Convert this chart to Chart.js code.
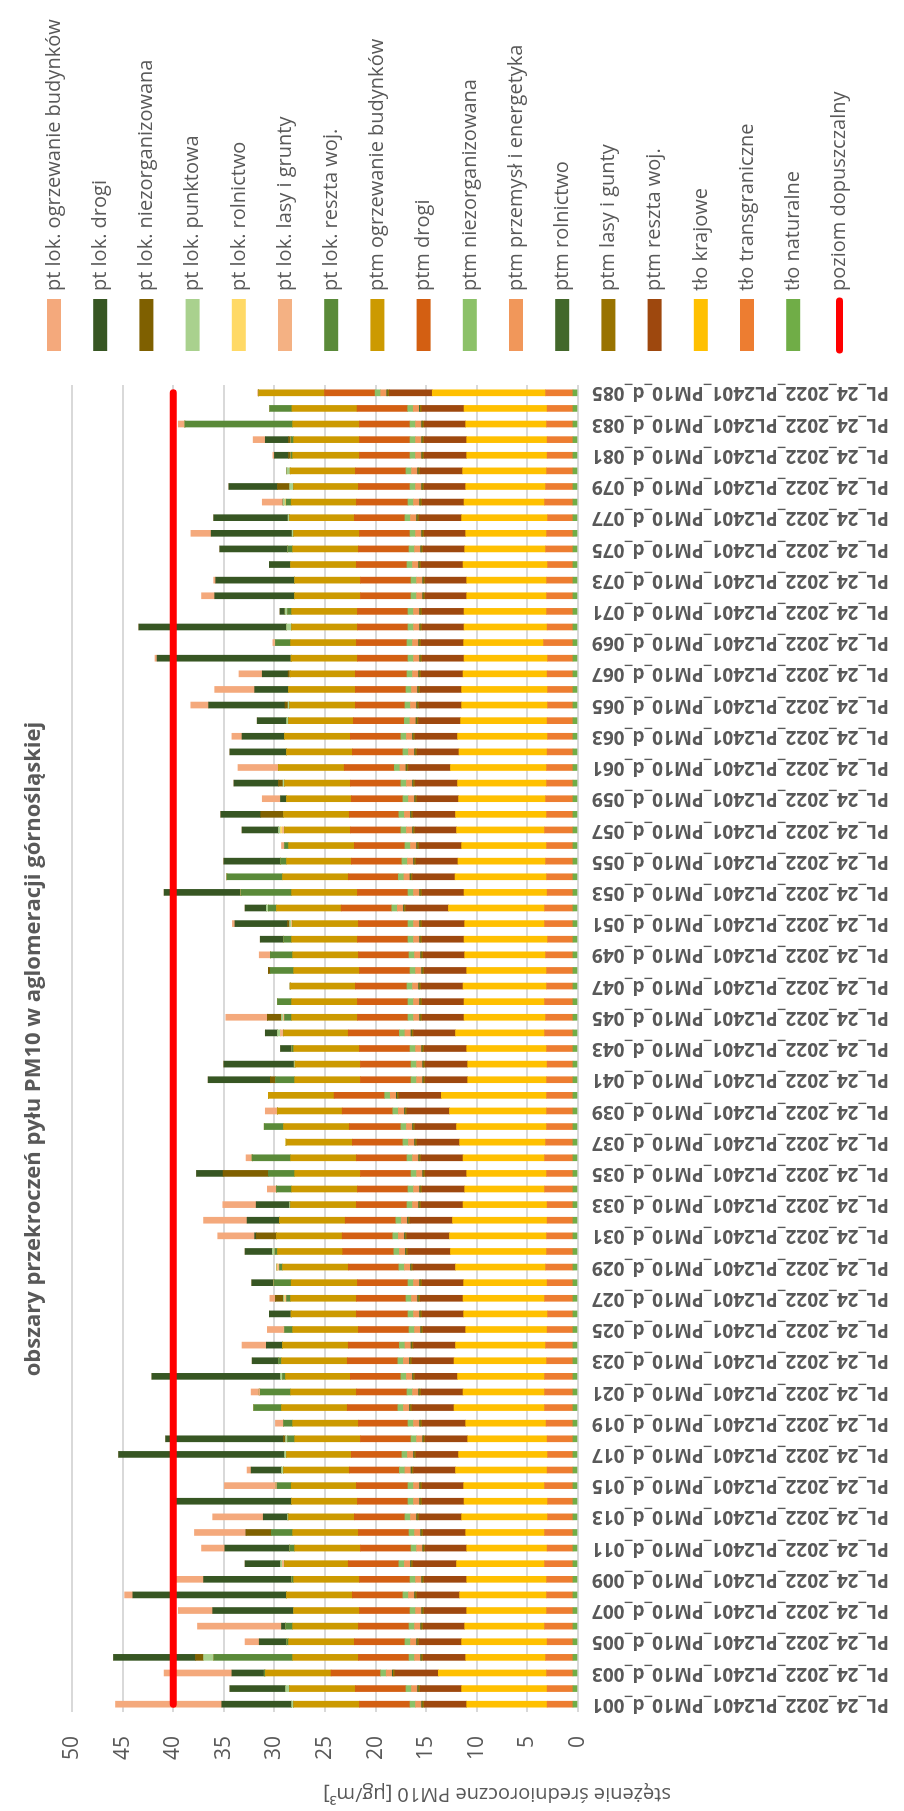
<!DOCTYPE html>
<html lang="pl">
<head>
<meta charset="utf-8">
<title>obszary przekroczeń pyłu PM10 w aglomeracji górnośląskiej</title>
<script src="https://cdn.jsdelivr.net/npm/chart.js@4.4.1/dist/chart.umd.min.js"></script>
<style>
  html, body { margin: 0; padding: 0; background: #fff; overflow: hidden; }
  /* chart is drawn landscape and turned a quarter to the left */
  #wrap { position: absolute; left: 0; top: 0; width: 1811px; height: 904px;
          transform-origin: 0 0; transform: translateY(1811px) rotate(-90deg); }
</style>
</head>
<body>
<div id="wrap"><canvas id="pm10Chart" width="1811" height="904"></canvas></div>
<script>
const chartTitle = 'obszary przekroczeń pyłu PM10 w aglomeracji górnośląskiej';
const axisTitle = 'stężenie średnioroczne PM10 [µg/m³]';

// PL_24_2022_PL2401_PM10_d_001 ... _085
const categories = Array.from({ length: 85 }, (_, i) => 'PL_24_2022_PL2401_PM10_d_' + String(i + 1).padStart(3, '0'));
const valueTicks = [0, 5, 10, 15, 20, 25, 30, 35, 40, 45, 50];
const limitValue = 40;

// background (tło)
const tloNaturalne = [
  0.5, 0.5, 0.5, 0.5, 0.5, 0.5, 0.5, 0.5, 0.5, 0.5,
  0.5, 0.5, 0.5, 0.5, 0.5, 0.5, 0.5, 0.5, 0.5, 0.5,
  0.5, 0.5, 0.5, 0.5, 0.5, 0.5, 0.5, 0.5, 0.5, 0.5,
  0.5, 0.5, 0.5, 0.5, 0.5, 0.5, 0.5, 0.5, 0.5, 0.5,
  0.5, 0.5, 0.5, 0.5, 0.5, 0.5, 0.5, 0.5, 0.5, 0.5,
  0.5, 0.5, 0.5, 0.5, 0.5, 0.5, 0.5, 0.5, 0.5, 0.5,
  0.5, 0.5, 0.5, 0.5, 0.5, 0.5, 0.5, 0.5, 0.5, 0.5,
  0.5, 0.5, 0.5, 0.5, 0.5, 0.5, 0.5, 0.5, 0.5, 0.5,
  0.5, 0.5, 0.5, 0.5, 0.5];
const tloTransgraniczne = [
  2.55, 2.55, 2.6, 2.7, 2.55, 2.8, 2.6, 2.6, 2.6, 2.8,
  2.55, 2.8, 2.5, 2.5, 2.8, 2.55, 2.5, 2.55, 2.65, 2.8,
  2.8, 2.8, 2.6, 2.7, 2.55, 2.5, 2.8, 2.55, 2.7, 2.6,
  2.6, 2.55, 2.55, 2.8, 2.6, 2.8, 2.7, 2.6, 2.6, 2.6,
  2.6, 2.55, 2.6, 2.8, 2.7, 2.8, 2.6, 2.6, 2.7, 2.5,
  2.8, 2.8, 2.55, 2.6, 2.7, 2.6, 2.8, 2.6, 2.7, 2.6,
  2.6, 2.55, 2.5, 2.55, 2.5, 2.5, 2.55, 2.5, 2.9, 2.55,
  2.6, 2.6, 2.6, 2.5, 2.7, 2.6, 2.5, 2.8, 2.7, 2.6,
  2.55, 2.55, 2.6, 2.55, 2.7];
const tloKrajowe = [
  7.95, 8.45, 10.7, 7.9, 8.45, 7.9, 7.9, 8.6, 7.9, 8.7,
  7.95, 7.8, 8.5, 8.26, 8.0, 9.05, 8.8, 7.85, 7.95, 8.95,
  8.06, 8.6, 9.15, 8.9, 8.05, 8.3, 8.06, 8.25, 8.9, 9.5,
  9.6, 9.35, 8.31, 7.9, 7.9, 8.06, 8.5, 8.9, 9.6, 10.4,
  7.8, 7.85, 7.9, 8.8, 8.06, 7.96, 8.26, 7.9, 8.0, 8.26,
  7.9, 9.5, 8.21, 9.05, 8.66, 8.4, 8.7, 9.0, 8.6, 8.8,
  9.5, 8.71, 8.9, 8.55, 8.5, 8.5, 8.31, 8.26, 7.9, 8.21,
  8.16, 7.9, 7.9, 8.36, 8.0, 8.0, 8.5, 7.96, 7.9, 8.3,
  7.95, 7.95, 8.0, 8.21, 11.2];

// ptm
const ptmResztaWoj = [
  4.2, 4.1, 4.3, 4.2, 4.2, 4.1, 4.2, 4.2, 4.2, 4.3,
  4.1, 4.2, 4.2, 4.14, 4.1, 4.15, 4.2, 4.2, 4.3, 4.15,
  4.14, 4.2, 4.15, 4.15, 4.2, 4.1, 4.24, 4.1, 4.2, 4.2,
  4.2, 4.2, 4.14, 4.2, 4.1, 4.14, 4.2, 4.1, 4.2, 4.2,
  4.2, 4.2, 4.2, 4.15, 4.14, 4.14, 4.14, 4.2, 4.1, 4.14,
  4.2, 4.2, 4.14, 4.2, 4.14, 4.2, 4.1, 4.2, 4.1, 4.2,
  4.15, 4.14, 4.2, 4.16, 4.2, 4.1, 4.14, 4.14, 4.2, 4.14,
  4.14, 4.1, 4.1, 4.14, 4.1, 4.1, 4.2, 4.14, 4.1, 4.2,
  4.2, 4.2, 4.1, 4.17, 4.25];
const ptmLasy = [
  0.15, 0.15, 0.15, 0.15, 0.15, 0.15, 0.15, 0.15, 0.15, 0.15,
  0.15, 0.15, 0.15, 0.15, 0.15, 0.15, 0.15, 0.15, 0.15, 0.15,
  0.15, 0.15, 0.15, 0.15, 0.15, 0.15, 0.15, 0.15, 0.15, 0.15,
  0.15, 0.15, 0.15, 0.15, 0.15, 0.15, 0.15, 0.15, 0.15, 0.15,
  0.15, 0.15, 0.15, 0.15, 0.15, 0.15, 0.15, 0.15, 0.15, 0.15,
  0.15, 0.15, 0.15, 0.15, 0.15, 0.15, 0.15, 0.15, 0.15, 0.15,
  0.15, 0.15, 0.15, 0.15, 0.15, 0.15, 0.15, 0.15, 0.15, 0.15,
  0.15, 0.15, 0.15, 0.15, 0.15, 0.15, 0.15, 0.15, 0.15, 0.15,
  0.15, 0.15, 0.15, 0.15, 0.15];
const ptmRolnictwo = [
  0.1, 0.1, 0.1, 0.1, 0.1, 0.1, 0.1, 0.1, 0.1, 0.1,
  0.1, 0.1, 0.1, 0.1, 0.1, 0.1, 0.1, 0.1, 0.1, 0.1,
  0.1, 0.1, 0.1, 0.1, 0.1, 0.1, 0.1, 0.1, 0.1, 0.1,
  0.1, 0.1, 0.1, 0.1, 0.1, 0.1, 0.1, 0.1, 0.1, 0.1,
  0.1, 0.1, 0.1, 0.1, 0.1, 0.1, 0.1, 0.1, 0.1, 0.1,
  0.1, 0.1, 0.1, 0.1, 0.1, 0.1, 0.1, 0.1, 0.1, 0.1,
  0.1, 0.1, 0.1, 0.1, 0.1, 0.1, 0.1, 0.1, 0.1, 0.1,
  0.1, 0.1, 0.1, 0.1, 0.1, 0.1, 0.1, 0.1, 0.1, 0.1,
  0.1, 0.1, 0.1, 0.1, 0.1];
const ptmPrzemysl = [
  0.6, 0.6, 0.6, 0.6, 0.6, 0.6, 0.6, 0.6, 0.6, 0.6,
  0.6, 0.6, 0.6, 0.6, 0.6, 0.6, 0.6, 0.6, 0.6, 0.6,
  0.6, 0.6, 0.6, 0.6, 0.6, 0.6, 0.6, 0.6, 0.6, 0.6,
  0.6, 0.6, 0.6, 0.6, 0.6, 0.6, 0.6, 0.6, 0.6, 0.6,
  0.6, 0.6, 0.6, 0.6, 0.6, 0.6, 0.6, 0.6, 0.6, 0.6,
  0.6, 0.6, 0.6, 0.6, 0.6, 0.6, 0.6, 0.6, 0.6, 0.6,
  0.6, 0.6, 0.6, 0.6, 0.6, 0.6, 0.6, 0.6, 0.6, 0.6,
  0.6, 0.6, 0.6, 0.6, 0.6, 0.6, 0.6, 0.6, 0.6, 0.6,
  0.6, 0.6, 0.6, 0.6, 0.6];
const ptmNiezorg = [
  0.55, 0.55, 0.55, 0.55, 0.55, 0.55, 0.55, 0.55, 0.55, 0.55,
  0.55, 0.55, 0.55, 0.55, 0.55, 0.55, 0.55, 0.55, 0.55, 0.55,
  0.55, 0.55, 0.55, 0.55, 0.55, 0.55, 0.55, 0.55, 0.55, 0.55,
  0.55, 0.55, 0.55, 0.55, 0.55, 0.55, 0.55, 0.55, 0.55, 0.55,
  0.55, 0.55, 0.55, 0.55, 0.55, 0.55, 0.55, 0.55, 0.55, 0.55,
  0.55, 0.55, 0.55, 0.55, 0.55, 0.55, 0.55, 0.55, 0.55, 0.55,
  0.55, 0.55, 0.55, 0.55, 0.55, 0.55, 0.55, 0.55, 0.55, 0.55,
  0.55, 0.55, 0.55, 0.55, 0.55, 0.55, 0.55, 0.55, 0.55, 0.55,
  0.55, 0.55, 0.55, 0.55, 0.55];
const ptmDrogi = [
  5.0, 5.0, 4.9, 5.0, 5.0, 5.0, 5.0, 5.0, 5.0, 5.0,
  5.0, 5.0, 5.0, 5.0, 5.1, 4.95, 5.0, 5.0, 4.9, 5.0,
  5.0, 5.0, 5.0, 5.05, 5.0, 5.1, 4.9, 5.0, 5.0, 5.05,
  5.0, 5.0, 5.0, 5.0, 5.0, 5.0, 5.0, 5.1, 5.0, 5.0,
  5.0, 5.0, 5.0, 5.05, 5.0, 5.0, 5.1, 5.0, 5.0, 5.0,
  4.9, 5.0, 5.0, 4.95, 5.0, 5.0, 5.0, 4.9, 5.1, 5.0,
  4.95, 5.0, 5.0, 5.04, 4.9, 5.0, 5.1, 5.0, 5.0, 5.0,
  5.0, 5.0, 5.0, 5.0, 5.0, 5.0, 5.0, 5.1, 5.1, 5.0,
  5.0, 5.0, 5.0, 5.0, 5.0];
const ptmOgrzewanie = [
  6.5, 6.5, 6.5, 6.5, 6.5, 6.5, 6.5, 6.5, 6.5, 6.3,
  6.5, 6.5, 6.5, 6.5, 6.44, 6.5, 6.4, 6.5, 6.5, 6.5,
  6.5, 6.4, 6.5, 6.5, 6.5, 6.44, 6.5, 6.54, 6.5, 6.45,
  6.5, 6.5, 6.5, 6.5, 6.5, 6.5, 6.5, 6.5, 6.4, 6.5,
  6.5, 6.45, 6.5, 6.4, 6.5, 6.5, 6.44, 6.5, 6.5, 6.5,
  6.5, 6.4, 6.5, 6.5, 6.4, 6.5, 6.5, 6.5, 6.4, 6.5,
  6.5, 6.5, 6.5, 6.4, 6.5, 6.6, 6.44, 6.54, 6.5, 6.5,
  6.5, 6.5, 6.5, 6.5, 6.5, 6.5, 6.4, 6.44, 6.4, 6.44,
  6.6, 6.5, 6.6, 6.44, 6.5];

// pt lok.
const ptlResztaWoj = [
  0, 0, 0.1, 7.8, 0.2, 0.7, 0, 0, 0.2, 0,
  0.5, 2.1, 0, 0, 1.4, 0, 0, 0.7, 0.9, 2.75,
  3.0, 0.3, 0.3, 0, 0.8, 0, 0.4, 1.7, 0.3, 0.25,
  0, 0, 0, 1.5, 2.6, 3.8, 0, 1.9, 0, 0,
  1.9, 0, 0.15, 0, 0.7, 1.4, 0, 2.3, 2.2, 0.8,
  0, 0.8, 5.0, 5.5, 0.6, 0.4, 0, 0, 0, 0,
  0, 0, 0, 0, 0, 0, 0, 0, 1.5, 0,
  0.4, 0, 0, 0, 0.5, 0, 0, 0.5, 0, 0,
  0.15, 0.25, 10.65, 2.2, 0];
const ptlLasy = [
  0, 0, 0, 0, 0, 0, 0, 0, 0, 0.2,
  0, 0, 0, 0, 0.1, 0, 0, 0, 0, 0,
  0.1, 0, 0, 0, 0.1, 0, 0.1, 0, 0.15, 0,
  0, 0, 0, 0, 0, 0, 0, 0, 0, 0,
  0, 0, 0, 0.3, 0.1, 0, 0, 0, 0, 0,
  0.1, 0, 0, 0, 0, 0, 0.2, 0, 0, 0,
  0, 0, 0, 0, 0, 0, 0, 0, 0.1, 0,
  0, 0, 0, 0, 0, 0, 0, 0, 0, 0,
  0, 0, 0, 0, 0];
const ptlRolnictwo = [
  0, 0, 0, 0, 0, 0, 0, 0, 0, 0,
  0, 0, 0, 0, 0, 0, 0, 0, 0, 0,
  0, 0, 0, 0, 0, 0, 0.1, 0, 0.1, 0,
  0, 0, 0, 0, 0, 0, 0.1, 0, 0, 0,
  0, 0, 0, 0, 0, 0, 0, 0, 0, 0,
  0, 0, 0, 0, 0, 0, 0.2, 0, 0, 0,
  0, 0, 0, 0, 0, 0, 0, 0, 0, 0,
  0, 0, 0, 0, 0, 0, 0, 0.1, 0, 0,
  0, 0, 0, 0, 0];
const ptlPunktowa = [
  0.2, 0.4, 0, 1.0, 0, 0, 0, 0, 0, 0.2,
  0, 0, 0.1, 0, 0, 0.2, 0.2, 0.2, 0, 0,
  0, 0.2, 0, 0, 0, 0, 0.1, 0, 0, 0.25,
  0, 0, 0.1, 0, 0, 0, 0, 0, 0, 0,
  0, 0.1, 0, 0.3, 0.2, 0, 0, 0, 0, 0,
  0.2, 0.2, 0, 0, 0, 0, 0.2, 0, 0, 0.15,
  0, 0, 0, 0.2, 0.15, 0, 0, 0, 0, 0.5,
  0.25, 0, 0, 0, 0, 0.15, 0.15, 0.2, 0.4, 0.33,
  0, 0, 0, 0, 0];
const ptlNiezorg = [
  0, 0, 0, 0.8, 0, 0, 0, 0, 0, 0,
  0, 2.5, 0, 0, 0, 0, 0, 0.2, 0, 0,
  0, 0, 0, 0, 0, 0, 0.8, 0, 0, 0,
  2.0, 0, 0, 0, 4.47, 0, 0, 0, 0, 0,
  0.5, 0, 0, 0, 1.4, 0, 0, 0.2, 0, 0,
  0.2, 0, 0, 0, 0, 0, 0, 2.25, 0, 0.45,
  0, 0, 0, 0, 0.3, 0, 0.2, 0, 0, 0,
  0, 0, 0, 0, 0, 0, 0, 0, 1.2, 0,
  0.25, 0.25, 0, 0, 0];
const ptlDrogi = [
  6.9, 5.5, 3.2, 8.1, 2.7, 0.4, 8.0, 15.2, 8.7, 3.5,
  6.4, 0, 2.4, 11.4, 0, 3.0, 16.4, 11.65, 0, 0,
  0, 12.7, 2.6, 1.6, 0, 2.16, 0, 2.2, 0, 2.7,
  0.15, 3.2, 3.3, 0, 2.63, 0, 0, 0, 0, 0,
  6.15, 6.95, 1.15, 1.2, 0, 0, 0, 0, 0, 2.3,
  5.2, 2.1, 7.6, 0, 5.6, 0, 3.6, 3.95, 0.6, 4.4,
  0, 5.6, 4.2, 2.9, 7.55, 3.35, 2.56, 13.26, 0, 14.6,
  0.5, 7.9, 7.8, 2.1, 6.7, 8.0, 7.35, 0, 4.8, 0,
  1.4, 2.3, 0, 0, 0];
const ptlOgrzewanie = [
  10.5, 0, 6.7, 0, 1.4, 8.3, 3.4, 0.8, 2.7, 0,
  2.3, 5.1, 5.0, 0, 5.1, 0.4, 0, 0, 0.8, 0,
  0.8, 0, 0, 2.4, 1.6, 0, 0.55, 0, 0, 0,
  3.65, 4.3, 3.3, 0.9, 0, 0.6, 0, 0, 1.2, 0,
  0, 0, 0, 0, 4.1, 0, 0, 0, 1.1, 0,
  0.25, 0, 0, 0, 0, 0.3, 0, 0, 1.8, 0,
  4.0, 0, 1.0, 0, 1.76, 3.95, 2.3, 0.2, 0.15, 0,
  0, 1.3, 0.2, 0, 0, 2.0, 0, 2.06, 0, 0,
  0.15, 1.2, 0.65, 0, 0.1];

const limitLine = categories.map(() => limitValue);

// stacking order: first entry sits on the zero line
const barSeries = [
  { label: 'tło naturalne', data: tloNaturalne, color: '#70AD47' },
  { label: 'tło transgraniczne', data: tloTransgraniczne, color: '#ED7D31' },
  { label: 'tło krajowe', data: tloKrajowe, color: '#FFC000' },
  { label: 'ptm reszta woj.', data: ptmResztaWoj, color: '#9E480E' },
  { label: 'ptm lasy i gunty', data: ptmLasy, color: '#997300' },
  { label: 'ptm rolnictwo', data: ptmRolnictwo, color: '#43682B' },
  { label: 'ptm przemysł i energetyka', data: ptmPrzemysl, color: '#F1975A' },
  { label: 'ptm niezorganizowana', data: ptmNiezorg, color: '#8CC168' },
  { label: 'ptm drogi', data: ptmDrogi, color: '#D35F12' },
  { label: 'ptm ogrzewanie budynków', data: ptmOgrzewanie, color: '#CC9A00' },
  { label: 'pt lok. reszta woj.', data: ptlResztaWoj, color: '#5A8A39' },
  { label: 'pt lok. lasy i grunty', data: ptlLasy, color: '#F4B183' },
  { label: 'pt lok. rolnictwo', data: ptlRolnictwo, color: '#FFD966' },
  { label: 'pt lok. punktowa', data: ptlPunktowa, color: '#A9D18E' },
  { label: 'pt lok. niezorganizowana', data: ptlNiezorg, color: '#7F6000' },
  { label: 'pt lok. drogi', data: ptlDrogi, color: '#375623' },
  { label: 'pt lok. ogrzewanie budynków', data: ptlOgrzewanie, color: '#F4A97C' }
];

const FONT = '"Open Sans", "Liberation Sans", sans-serif';
const GREY = '#595959';

const datasets = barSeries.map(s => ({
  type: 'bar',
  label: s.label,
  data: s.data,
  backgroundColor: s.color,
  borderWidth: 0,
  barThickness: 6
}));
datasets.push({
  type: 'line',
  label: 'poziom dopuszczalny',
  data: limitLine,
  borderColor: '#FF0000',
  borderWidth: 7,
  borderCapStyle: 'round',
  pointRadius: 0,
  fill: false,
  order: -1
});

// title, axis title and legend (legend top entry = last stacked series)
const decorPlugin = {
  id: 'decor',
  afterDraw(chart) {
    const ctx = chart.ctx;
    ctx.save();
    ctx.fillStyle = GREY;
    ctx.textBaseline = 'middle';

    ctx.font = 'bold 22px ' + FONT;
    ctx.textAlign = 'center';
    ctx.fillText(chartTitle, 762, 34);

    ctx.save();
    ctx.translate(17, 497);
    ctx.rotate(-Math.PI / 2);
    ctx.font = '20px ' + FONT;
    ctx.fillText(axisTitle, 0, 0);
    ctx.restore();

    const items = chart.data.datasets.filter(d => d.type === 'bar').slice().reverse();
    items.push(chart.data.datasets.find(d => d.type === 'line'));
    ctx.font = '20px ' + FONT;
    ctx.textAlign = 'left';
    items.forEach((d, i) => {
      const y = 54 + i * 46.2;
      if (d.type === 'line') {
        ctx.strokeStyle = d.borderColor;
        ctx.lineWidth = 7;
        ctx.lineCap = 'round';
        ctx.beginPath();
        ctx.moveTo(1461, y);
        ctx.lineTo(1510, y);
        ctx.stroke();
      } else {
        ctx.fillStyle = d.backgroundColor;
        ctx.fillRect(1460, y - 7, 52, 14);
      }
      ctx.fillStyle = GREY;
      ctx.fillText(d.label, 1520, y);
    });
    ctx.restore();
  }
};

new Chart(document.getElementById('pm10Chart'), {
  data: { labels: categories, datasets: datasets },
  options: {
    responsive: false,
    animation: false,
    devicePixelRatio: 1,
    layout: { padding: { left: 0, right: 385, top: 72, bottom: 0 } },
    plugins: {
      legend: { display: false },
      title: { display: false },
      tooltip: { enabled: false }
    },
    scales: {
      x: {
        stacked: true,
        grid: { display: false, drawTicks: false },
        border: { display: false },
        ticks: {
          autoSkip: false,
          minRotation: 90,
          maxRotation: 90,
          padding: 14,
          color: GREY,
          font: { family: FONT, size: 19, weight: 'bold' },
          callback: (v, i) => (i % 2 === 0 ? categories[i] : '')
        },
        afterFit: s => { s.height = 904 - 578; }
      },
      y: {
        stacked: true,
        min: valueTicks[0],
        max: valueTicks[valueTicks.length - 1],
        afterBuildTicks: s => { s.ticks = valueTicks.map(v => ({ value: v })); },
        grid: { color: '#D9D9D9', lineWidth: 2, drawTicks: false },
        border: { display: false },
        ticks: {
          padding: 24,
          color: GREY,
          font: { family: FONT, size: 21 }
        },
        afterFit: s => { s.width = 99; }
      }
    }
  },
  plugins: [decorPlugin]
});
</script>
</body>
</html>
